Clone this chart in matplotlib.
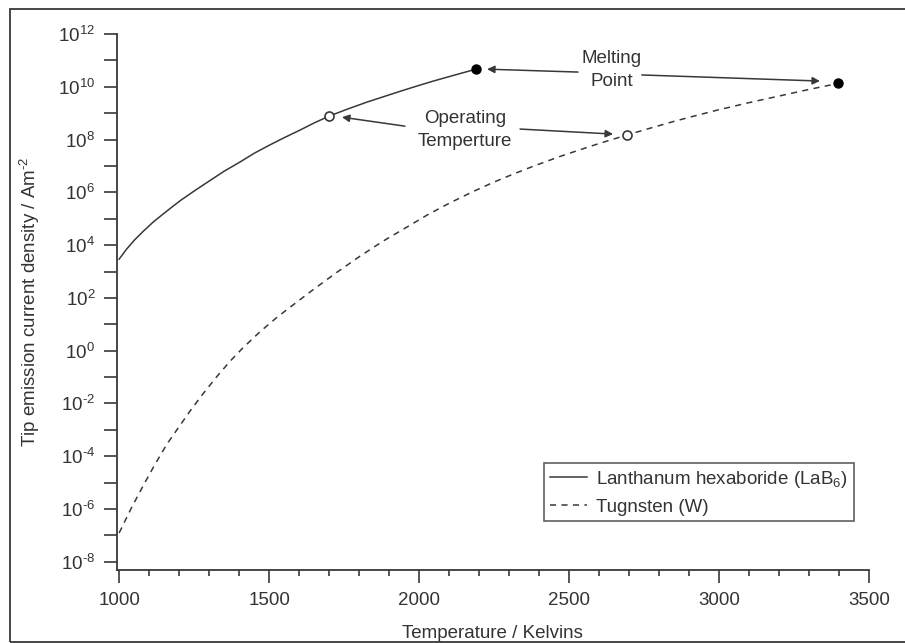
import matplotlib
matplotlib.use('Agg')
import matplotlib.pyplot as plt
from matplotlib.patches import Rectangle
from matplotlib.ticker import FixedLocator, MultipleLocator, FixedFormatter, NullFormatter
import numpy as np

plt.rcParams['font.family'] = ['Liberation Sans', 'DejaVu Sans']
plt.rcParams['mathtext.fontset'] = 'custom'
plt.rcParams['mathtext.rm'] = 'Liberation Sans'
plt.rcParams['mathtext.it'] = 'Liberation Sans:italic'

ink = '#383838'
txt = '#333333'

# LaB6 emission, log10 of A/m^2
lab6_temp = [1000, 1025, 1050, 1080, 1114, 1160, 1203, 1250, 1303, 1350, 1403, 1450,
             1503, 1550, 1603, 1650, 1700, 1760, 1826, 1880, 1937, 1990, 2048, 2120, 2190]
lab6_logj = [3.47, 3.85, 4.18, 4.52, 4.88, 5.30, 5.68, 6.05, 6.45, 6.80, 7.15, 7.48,
             7.80, 8.07, 8.36, 8.63, 8.89, 9.15, 9.42, 9.62, 9.83, 10.02, 10.22, 10.45, 10.67]

# tungsten emission
w_temp = [1000, 1040, 1081, 1120, 1159, 1200, 1237, 1280, 1326, 1370, 1414, 1470,
          1526, 1590, 1648, 1720, 1803, 1880, 1959, 2030, 2103, 2180, 2250, 2320,
          2381, 2470, 2530, 2600, 2692, 2770, 2850, 2920, 2992, 3100, 3200, 3300, 3398]
w_logj = [-6.91, -5.98, -5.10, -4.30, -3.55, -2.88, -2.28, -1.63, -0.98, -0.40, 0.12, 0.72,
          1.26, 1.82, 2.32, 2.92, 3.58, 4.15, 4.68, 5.16, 5.60, 6.03, 6.39, 6.72,
          6.99, 7.36, 7.59, 7.85, 8.17, 8.43, 8.69, 8.90, 9.11, 9.40, 9.65, 9.90, 10.13]

# special points
melt_temp = [2190, 3398]
melt_logj = [10.67, 10.13]
oper_temp = [1700, 2692]
oper_logj = [8.89, 8.17]

y_major = list(range(-8, 13, 2))
y_minor = list(range(-7, 12, 2))
y_labels = ['$\\mathregular{10^{%s}}$' % str(p).replace('-', '\u2010') for p in y_major]

fig = plt.figure(figsize=(9.05, 6.43), dpi=100)
ax = fig.add_axes([0.129, 0.1135, 0.831, 0.8335])

ax.plot(lab6_temp, 10.0 ** np.array(lab6_logj), color=ink, lw=1.1,
        label='Lanthanum hexaboride (LaB$_6$)')
ax.plot(w_temp, 10.0 ** np.array(w_logj), color=ink, lw=1.1, ls=(0, (4, 3.5)),
        label='Tugnsten (W)')
ax.plot(melt_temp, 10.0 ** np.array(melt_logj), 'o', color='black', ms=6.5, zorder=5)
ax.plot(oper_temp, 10.0 ** np.array(oper_logj), 'o', mfc='white', mec=ink, mew=1.2,
        ms=6.5, zorder=5)

ax.set_yscale('log')
ax.set_xlim(992, 3500)
ax.set_ylim(10 ** -8.315, 1e12)

ax.yaxis.set_major_locator(FixedLocator([10.0 ** p for p in y_major]))
ax.yaxis.set_major_formatter(FixedFormatter(y_labels))
ax.yaxis.set_minor_locator(FixedLocator([10.0 ** p for p in y_minor]))
ax.yaxis.set_minor_formatter(NullFormatter())
ax.xaxis.set_major_locator(MultipleLocator(500))
ax.xaxis.set_minor_locator(MultipleLocator(100))

for s in ['top', 'right']:
    ax.spines[s].set_visible(False)
for s in ['left', 'bottom']:
    ax.spines[s].set_color(ink)
    ax.spines[s].set_linewidth(1.3)

ax.tick_params(axis='both', which='major', length=9.5, width=1.2, color=ink,
               labelsize=13.5, labelcolor=txt, pad=6)
ax.tick_params(axis='y', which='minor', length=9.5, width=1.2, color=ink)
ax.tick_params(axis='x', which='minor', length=4.5, width=1.2, color=ink)

ax.set_xlabel('Temperature / Kelvins', fontsize=13.5, color=txt)
ax.set_ylabel('Tip emission current density / Am$^{\u20102}$', fontsize=13.5, color=txt)
ax.xaxis.set_label_coords(0.5, -0.102)
ax.yaxis.set_label_coords(-0.099, 0.5)

leg = ax.legend(loc='lower right', bbox_to_anchor=(0.98, 0.091), fontsize=13.5,
                frameon=True, fancybox=False, handlelength=2.0, handletextpad=0.5,
                borderpad=0.3, labelspacing=0.45, borderaxespad=0)
leg.get_frame().set_edgecolor(ink)
leg.get_frame().set_linewidth(1.2)
for t in leg.get_texts():
    t.set_color(txt)

arrow = dict(arrowstyle='-|>', color=ink, lw=1.1, mutation_scale=11,
             shrinkA=0, shrinkB=0)

# annotations
ax.text(2643, 10 ** 10.64, 'Melting\nPoint', ha='center', va='center', fontsize=13.5,
        color=txt, linespacing=1.5)
ax.annotate('', xy=(2227, 10 ** 10.67), xytext=(2530, 10 ** 10.56), arrowprops=arrow)
ax.annotate('', xy=(3337, 10 ** 10.22), xytext=(2743, 10 ** 10.45), arrowprops=arrow)

ax.text(2153, 10 ** 8.36, 'Operating\nTemperture', ha='center', va='center', fontsize=13.5,
        color=txt, linespacing=1.45)
ax.annotate('', xy=(1743, 10 ** 8.85), xytext=(1953, 10 ** 8.51), arrowprops=arrow)
ax.annotate('', xy=(2647, 10 ** 8.21), xytext=(2337, 10 ** 8.40), arrowprops=arrow)

# outer frame of the figure
fig.patches.append(Rectangle((10 / 905, 1.5 / 643), 1.0, (642 - 9) / 643,
                             transform=fig.transFigure, fill=False, edgecolor=ink,
                             lw=1.3, clip_on=False))

fig.savefig('out.png', dpi=100)
